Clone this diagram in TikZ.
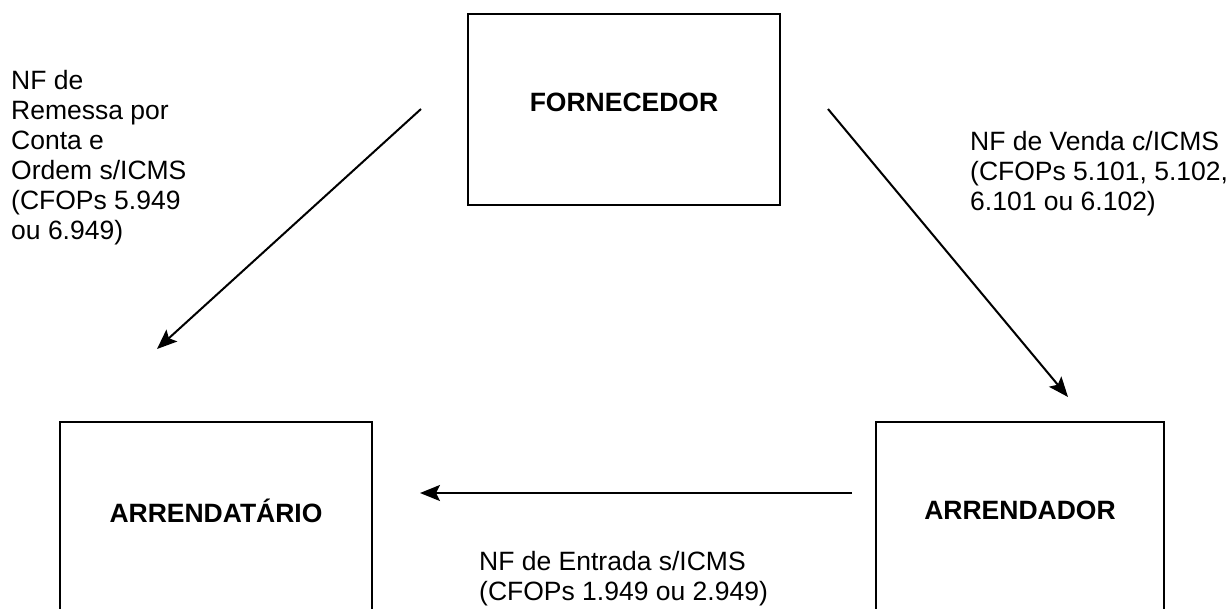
\documentclass[tikz,border=0pt]{standalone}
\usepackage{fontspec}
\setmainfont{Liberation Sans}
\usetikzlibrary{arrows.meta}

\tikzset{
  caixa/.style={draw, line width=2pt, minimum width=312pt, minimum height=191pt,
    inner sep=0pt, text depth=14pt, font=\fontsize{26.5}{30}\selectfont\bfseries},
  seta/.style={line width=2pt, -{Stealth[length=20pt,width=16pt,inset=4pt]}},
  nota/.style={align=left, anchor=north west, inner sep=0pt, font=\fontsize{26.5}{30}\selectfont}
}

\begin{document}
\begin{tikzpicture}[x=1pt,y=-1pt]
\useasboundingbox (0,0) rectangle (1232,608);
% boxes
\node[caixa] (fornecedor) at (624,109.5) {FORNECEDOR};
\node[caixa] (arrendatario) at (216,517.5) {ARRENDATÁRIO};
\node[caixa, minimum width=288pt] (arrendador) at (1020,517.5) {ARRENDADOR};
% arrow ends
\coordinate (remessaIni) at (421,109);
\coordinate (remessaFim) at (157,349);
\coordinate (vendaIni) at (828,109);
\coordinate (vendaFim) at (1068,397);
\coordinate (entradaIni) at (852,493);
\coordinate (entradaFim) at (420,493);
\draw[seta] (remessaIni) -- (remessaFim);
\draw[seta] (vendaIni) -- (vendaFim);
\draw[seta] (entradaIni) -- (entradaFim);
% texts
\node[nota] (remessa) at (11,70) {NF de\\Remessa por\\Conta e\\Ordem s/ICMS\\(CFOPs 5.949\\ou 6.949)};
\node[nota] (venda) at (970,131) {NF de Venda c/ICMS\\(CFOPs 5.101, 5.102,\\6.101 ou 6.102)};
\node[nota] (entrada) at (479,551) {NF de Entrada s/ICMS\\(CFOPs 1.949 ou 2.949)};
\end{tikzpicture}
\end{document}
